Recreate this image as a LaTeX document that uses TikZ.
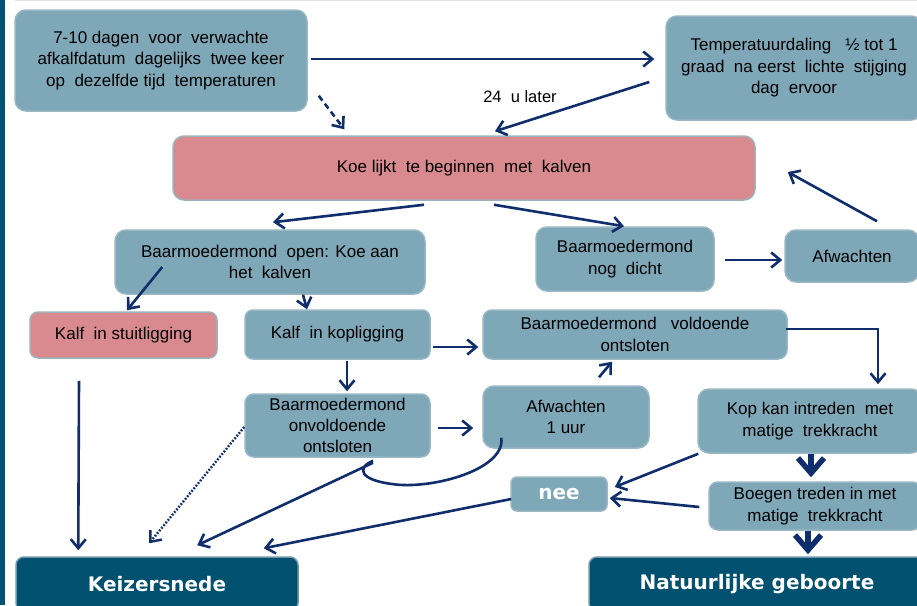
\documentclass[tikz,border=0pt]{standalone}
\usepackage{fontspec}
\setmainfont{Liberation Sans}
\newfontfamily\headfont{DejaVu Sans}
\usetikzlibrary{arrows.meta,calc}
\definecolor{boxfill}{HTML}{7EA7B8}
\definecolor{boxline}{HTML}{98B6C3}
\definecolor{pinkfill}{HTML}{D98A8F}
\definecolor{pinkline}{HTML}{9DB3BC}
\definecolor{darkfill}{HTML}{00506F}
\definecolor{darkline}{HTML}{6E97A8}
\definecolor{navy}{HTML}{102E6C}
\definecolor{strip}{HTML}{005275}
\begin{document}
\begin{tikzpicture}[x=1pt,y=-1pt,
  box/.style={draw=boxline, fill=boxfill, line width=1.5pt, rounded corners=11pt,
    align=center, text=black, inner sep=0pt,
    font=\fontsize{17}{21.5}\selectfont},
  pinkbox/.style={box, fill=pinkfill, draw=pinkline},
  darkbox/.style={draw=darkline, fill=darkfill, line width=1.5pt, rounded corners=8pt,
    text=white, inner sep=0pt, font=\headfont\bfseries\fontsize{20}{24}\selectfont},
  neebox/.style={box, rounded corners=6pt, text=white, font=\headfont\bfseries\fontsize{20}{24}\selectfont},
  arr/.style={draw=navy, line width=2.6pt, -{Straight Barb[length=9pt,width=15pt]}},
  plain/.style={draw=navy, line width=2.6pt},
  fat/.style={draw=navy, line width=5.5pt, -{Straight Barb[length=15pt,width=26pt]}}
]
\useasboundingbox (0,0) rectangle (917,605);
\clip (0,0) rectangle (917,605);
\fill[white] (0,0) rectangle (917,605);
\fill[strip] (0,0) rectangle (5,605);
\draw[black!12, line width=1pt] (15,0.5) -- (917,0.5);

% nodes
\node[box, minimum width=292, minimum height=101] (n1) at (161,60.5)
  {7-10 dagen \ voor \ verwachte\\afkalfdatum \ dagelijks \ twee keer\\op \ dezelfde tijd \ temperaturen};
\node[box, minimum width=256, minimum height=104] (n2) at (794,68)
  {Temperatuurdaling \ \ ½ tot 1\\graad \ na eerst \ lichte \ stijging\\dag \ ervoor};
\node[pinkbox, minimum width=582, minimum height=64] (koe) at (464,168)
  {Koe lijkt \ te beginnen \ met \ kalven};
\node[box, minimum width=310, minimum height=64] (open) at (270,262)
  {Baarmoedermond \ open: Koe aan\\het \ kalven};
\node[box, minimum width=178, minimum height=64] (dicht) at (625,259)
  {Baarmoedermond\\nog \ dicht};
\node[box, minimum width=134, minimum height=52] (afw) at (852,256)
  {Afwachten};
\node[pinkbox, rounded corners=8pt, minimum width=187, minimum height=46] (stuit) at (123.5,335)
  {Kalf \ in stuitligging};
\node[box, rounded corners=8pt, minimum width=185, minimum height=49] (kop) at (337.5,334.5)
  {Kalf \ in kopligging};
\node[box, rounded corners=9pt, minimum width=185, minimum height=63,
  font=\fontsize{17}{21}\selectfont] (onv) at (337.5,425.5)
  {Baarmoedermond\\onvoldoende\\ontsloten};
\node[box, rounded corners=9pt, minimum width=304, minimum height=49] (vold) at (635,334.5)
  {Baarmoedermond \ \ voldoende\\ontsloten};
\node[box, minimum width=166, minimum height=62] (afw1) at (566,417)
  {Afwachten\\1 uur};
\node[box, minimum width=224, minimum height=64] (kopkan) at (810,421)
  {Kop kan intreden \ met\\matige \ trekkracht};
\node[neebox, minimum width=96, minimum height=34] (nee) at (559,494) {nee};
\node[box, rounded corners=9pt, minimum width=212, minimum height=48] (boegen) at (815,506)
  {Boegen treden in met\\matige \ trekkracht};
\node[darkbox, minimum width=282, minimum height=54] (keiz) at (157,584) {Keizersnede};
\node[darkbox, minimum width=336, minimum height=54] (nat) at (757,584) {Natuurlijke geboorte};

\node[text=black, font=\fontsize{16.5}{20}\selectfont] (lab) at (520,97) {24 \ u later};

% connectors
\draw[arr] ($(n1.east)+(3,-1.5)$) -- ($(n2.west)+(-11,-9)$);
\draw[arr, dash pattern=on 6pt off 4pt] ($(n1.south east)+(11,-16)$) -- ($(koe.north west)+(172,-6)$);
\draw[arr] ($(n2.west)+(-16,14)$) -- ($(koe.north)+(31,-4)$);
\draw[arr] ($(koe.south)+(-40,4)$) -- ($(open.north)+(3,-7)$);
\draw[arr] ($(koe.south)+(30,4)$) -- ($(dicht.north)+(-1,0)$);
\draw[arr] ($(dicht.east)+(10,1)$) -- ($(afw.west)+(-2,4)$);
\draw[arr] ($(afw.north)+(25,-8)$) -- ($(koe.east)+(32,4)$);
\draw[arr] ($(open.west)+(48,5)$) -- ($(stuit.north)+(3.5,-1)$);
\draw[arr] ($(open.south)+(33,0)$) -- ($(kop.north)+(-30.5,0)$);
\draw[arr] ($(stuit.south)+(-44.5,22)$) -- ($(keiz.north west)+(63,-6)$);
\draw[arr] ($(kop.south)+(9.5,1)$) -- ($(onv.north)+(9.5,-2)$);
\draw[arr, line width=2.4pt, dash pattern=on 1.8pt off 1.6pt] ($(onv.west)+(0,1.5)$) -- ($(keiz.north west)+(134,-13)$);
\draw[arr] ($(onv.south)+(35.5,5)$) -- ($(keiz.north west)+(182,-11)$);
\draw[arr] ($(nee.west)+(1,5)$) -- ($(keiz.north east)+(-35,-8)$);
\draw[arr] ($(kop.east)+(2,12.5)$) -- ($(vold.west)+(-4,12.5)$);
\draw[arr] ($(onv.east)+(7,2.5)$) -- ($(afw1.west)+(-9,11)$);
\draw[plain] ($(afw1.south west)+(19,-11)$) .. controls (506,470) and (430,490) .. (392,484)
  .. controls (360,480) and (356,468) .. ($(onv.south)+(35.5,3)$);
\draw[arr] ($(vold.east)+(-2,-5.5)$) -| ($(kopkan.north)+(68,-4)$);
\draw[arr] ($(afw1.north)+(33,-8)$) -- ($(vold.south)+(-23,2)$);
\draw[arr] ($(kopkan.south west)+(1,0)$) -- ($(nee.east)+(7,-7)$);
\draw[arr] ($(boegen.west)+(-9,1)$) -- ($(nee.east)+(2,4)$);
\draw[fat] ($(kopkan.south)+(1,0)$) -- ($(boegen.north)+(-4,-4)$);
\draw[fat] ($(boegen.south)+(-7,0)$) -- ($(nat.north)+(51,-2)$);
\end{tikzpicture}
\end{document}
